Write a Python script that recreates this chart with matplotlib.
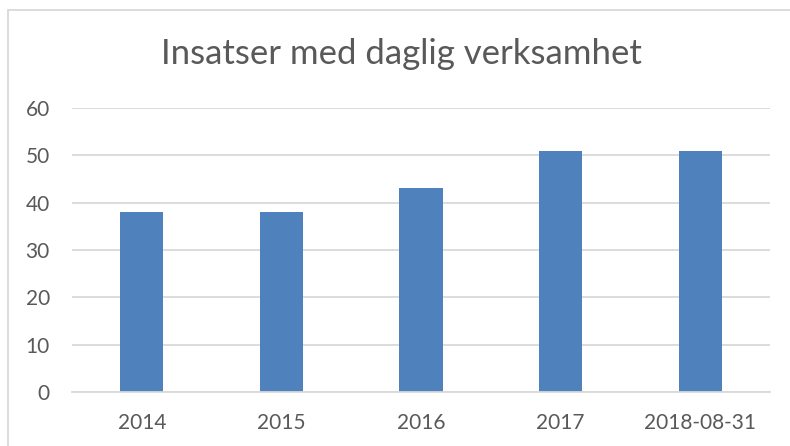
import matplotlib.pyplot as plt
from matplotlib.patches import Rectangle

# data
categories = ["2014", "2015", "2016", "2017", "2018-08-31"]
values = [38, 38, 43, 51, 51]
title = "Insatser med daglig verksamhet"

bar_color = "#4F81BD"
grid_color = "#D9D9D9"
text_color = "#595959"

plt.rcParams['font.family'] = ['Lato', 'DejaVu Sans']

fig = plt.figure(figsize=(7.9, 4.46), dpi=100)
ax = fig.add_axes([72 / 790, 1 - 392 / 446, 698 / 790, 284 / 446])

x = range(len(categories))
ax.bar(x, values, width=0.31, color=bar_color, zorder=3)

ax.set_xlim(-0.5, len(categories) - 0.5)
ax.set_ylim(0, 60)
ax.set_yticks(range(0, 61, 10))
ax.set_xticks(list(x))
ax.set_xticklabels(categories)

ax.yaxis.grid(True, color=grid_color, linewidth=1.3, zorder=0)
for s in ["top", "right", "left"]:
    ax.spines[s].set_visible(False)
ax.spines["bottom"].set_color(grid_color)
ax.spines["bottom"].set_linewidth(1.3)
ax.spines["bottom"].set_zorder(4)

ax.tick_params(axis="both", length=0, labelsize=15, labelcolor=text_color)
ax.tick_params(axis="y", pad=16)
ax.tick_params(axis="x", pad=15)

fig.text(0.508, 1 - 54 / 446, title, ha="center", va="center",
         fontsize=25, color=text_color)

# chart border
fig.patches.append(Rectangle((8 / 790, -0.05), 1.0, 1 - 10 / 446 + 0.05,
                             transform=fig.transFigure, fill=False,
                             edgecolor=grid_color, linewidth=1.3))

fig.savefig("out.png", dpi=100)
